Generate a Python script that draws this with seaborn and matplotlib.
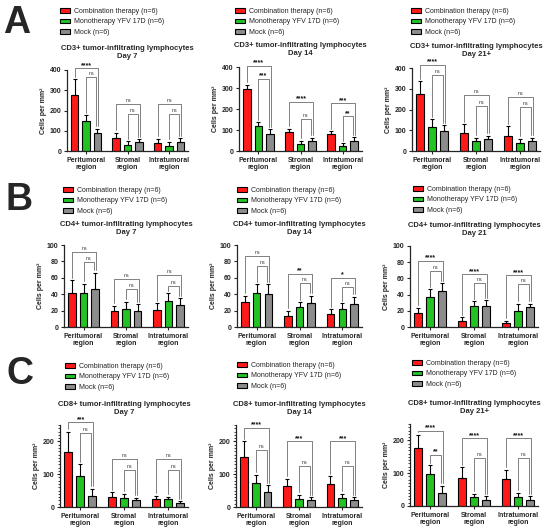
import numpy as np
import pandas as pd
import matplotlib
matplotlib.use("Agg")
import matplotlib.pyplot as plt
import seaborn as sns
from matplotlib.ticker import MultipleLocator

# ---------------- data ----------------
regions = ["Peritumoral\nregion", "Stromal\nregion", "Intratumoral\nregion"]
groups = ["Combination therapy (n=6)", "Monotherapy YFV 17D (n=6)", "Mock (n=6)"]
colors = ["#FF1A1A", "#22C322", "#8C8C8C"]

# means[region][group], tops = upper end of error bar
cd3_d7_mean = [[278, 148, 88], [66, 29, 44], [40, 25, 45]]
cd3_d7_top = [[354, 178, 109], [90, 47, 58], [60, 45, 62]]
cd3_d7_sig = [(0, 0, 2, 410, "****"), (0, 1, 2, 364, "ns"), (1, 0, 2, 230, "ns"),
              (1, 1, 2, 181, "ns"), (2, 0, 2, 230, "ns"), (2, 1, 2, 181, "ns")]

cd3_d14_mean = [[296, 120, 83], [91, 35, 50], [80, 24, 50]]
cd3_d14_top = [[315, 136, 104], [107, 48, 62], [93, 38, 66]]
cd3_d14_sig = [(0, 0, 2, 406, "****"), (0, 1, 2, 344, "***"), (1, 0, 2, 235, "****"),
               (1, 1, 2, 152, "ns"), (2, 0, 2, 227, "***"), (2, 1, 2, 166, "**")]

cd3_d21_mean = [[274, 117, 96], [87, 47, 57], [73, 37, 47]]
cd3_d21_top = [[335, 152, 125], [130, 65, 74], [120, 58, 63]]
cd3_d21_sig = [(0, 0, 2, 416, "****"), (0, 1, 2, 364, "ns"), (1, 0, 2, 270, "ns"),
               (1, 1, 2, 219, "ns"), (2, 0, 2, 259, "ns"), (2, 1, 2, 214, "ns")]

cd4_d7_mean = [[42, 41, 46], [20, 22, 19], [21, 32, 27]]
cd4_d7_top = [[57, 53, 66], [26, 31, 28], [29, 41, 35]]
cd4_d7_sig = [(0, 0, 2, 91, "ns"), (0, 1, 2, 79, "ns"), (1, 0, 2, 58, "ns"),
              (1, 1, 2, 46, "ns"), (2, 0, 2, 63, "ns"), (2, 1, 2, 50, "ns")]

cd4_d14_mean = [[31, 42, 40], [14, 24, 29], [16, 22, 28]]
cd4_d14_top = [[38, 52, 52], [20, 30, 38], [22, 29, 37]]
cd4_d14_sig = [(0, 0, 2, 87, "ns"), (0, 1, 2, 75, "ns"), (1, 0, 2, 65, "**"),
               (1, 1, 2, 54, "ns"), (2, 0, 2, 60, "*"), (2, 1, 2, 49, "ns")]

cd4_d21_mean = [[17, 37, 45], [8, 26, 26.5], [5, 20, 24.5]]
cd4_d21_top = [[24, 47, 54], [12, 32, 33], [7.5, 29, 29]]
cd4_d21_sig = [(0, 0, 2, 82, "****"), (0, 1, 2, 69, "ns"), (1, 0, 2, 65, "****"),
               (1, 1, 2, 54, "ns"), (2, 0, 2, 64, "****"), (2, 1, 2, 53, "ns")]

cd8_d7_mean = [[169, 93, 33], [32, 27, 20], [23, 23, 12]]
cd8_d7_top = [[229, 131, 56], [45, 40, 28], [35, 32, 18]]
cd8_d7_sig = [(0, 0, 2, 258, "***"), (0, 1, 2, 227, "ns"), (1, 0, 2, 146, "ns"),
              (1, 1, 2, 114, "ns"), (2, 0, 2, 146, "ns"), (2, 1, 2, 114, "ns")]

cd8_d14_mean = [[152, 73, 45], [64, 25, 20], [69, 27, 20]]
cd8_d14_top = [[200, 98, 66], [86, 38, 30], [93, 40, 30]]
cd8_d14_sig = [(0, 0, 2, 242, "****"), (0, 1, 2, 174, "ns"), (1, 0, 2, 200, "***"),
               (1, 1, 2, 126, "ns"), (2, 0, 2, 200, "***"), (2, 1, 2, 126, "ns")]

cd8_d21_mean = [[177, 99, 40], [85, 26, 18], [83, 26, 18]]
cd8_d21_top = [[217, 124, 62], [119, 38, 30], [111, 41, 30]]
cd8_d21_sig = [(0, 0, 2, 230, "****"), (0, 1, 2, 157, "**"), (1, 0, 2, 207, "****"),
               (1, 1, 2, 146, "ns"), (2, 0, 2, 207, "****"), (2, 1, 2, 146, "ns")]

titles = [
    ["CD3+ tumor-infiltrating lymphocytes\nDay 7", "CD3+ tumor-infiltrating lymphocytes\nDay 14",
     "CD3+ tumor-infiltrating lymphocytes\nDay 21+"],
    ["CD4+ tumor-infiltrating lymphocytes\nDay 7", "CD4+ tumor-infiltrating lymphocytes\nDay 14",
     "CD4+ tumor-infiltrating lymphocytes\nDay 21"],
    ["CD8+ tumor-infiltrating lymphocytes\nDay 7", "CD8+ tumor-infiltrating lymphocytes\nDay 14",
     "CD8+ tumor-infiltrating lymphocytes\nDay 21+"],
]
panel_letters = ["A", "B", "C"]

# ---------------- style ----------------
sns.set_style("ticks")
plt.rcParams["font.family"] = ["Liberation Sans", "DejaVu Sans"]

W, H = 550, 529
fig = plt.figure(figsize=(W / 100, H / 100), dpi=100)


def box(l, r, t, b):
    return [l / W, 1 - b / H, (r - l) / W, (b - t) / H]


axes_px = [
    [(67, 188, 70, 151), (239, 362, 67, 151), (412, 540, 68, 151)],
    [(64, 188, 245, 327), (237, 362, 245, 327), (410, 538, 246, 327)],
    [(60, 188, 425, 507), (236, 362, 425, 507), (410, 538, 424, 506)],
]
legend_px = [
    [(60, 8), (235, 8), (411, 8)],
    [(63, 187), (237, 187), (413, 186)],
    [(65, 363), (237, 362), (412, 360)],
]
title_pad = [8.5, 8, 8]
letter_pos = [(3, 33), (5, 210), (6, 384)]

data = [
    [(cd3_d7_mean, cd3_d7_top, cd3_d7_sig), (cd3_d14_mean, cd3_d14_top, cd3_d14_sig),
     (cd3_d21_mean, cd3_d21_top, cd3_d21_sig)],
    [(cd4_d7_mean, cd4_d7_top, cd4_d7_sig), (cd4_d14_mean, cd4_d14_top, cd4_d14_sig),
     (cd4_d21_mean, cd4_d21_top, cd4_d21_sig)],
    [(cd8_d7_mean, cd8_d7_top, cd8_d7_sig), (cd8_d14_mean, cd8_d14_top, cd8_d14_sig),
     (cd8_d21_mean, cd8_d21_top, cd8_d21_sig)],
]
row_ylim = [400, 100, 250]
row_major = [100, 20, 100]
row_minor = [None, None, 10]


def draw(ax, mean, top, sig, ymax, major, minor, title, leg_xy, pad):
    rows = []
    for ri, r in enumerate(regions):
        for gi, g in enumerate(groups):
            rows.append(dict(region=r, group=g, value=mean[ri][gi]))
    df = pd.DataFrame(rows)
    sns.barplot(data=df, x="region", y="value", hue="group", order=regions,
                hue_order=groups, palette=colors, ax=ax, width=0.82, gap=0.35,
                edgecolor="black", linewidth=0.8, errorbar=None, saturation=1)
    handles, labels = ax.get_legend_handles_labels()
    if ax.get_legend() is not None:
        ax.get_legend().remove()

    centers = np.zeros((3, 3))
    for gi, cont in enumerate(ax.containers[:3]):
        for ri, p in enumerate(cont.patches):
            centers[ri, gi] = p.get_x() + p.get_width() / 2
    m = np.array(mean, dtype=float)
    t = np.array(top, dtype=float)
    ax.errorbar(centers.ravel(), m.ravel(),
                yerr=[np.zeros(9), (t - m).ravel()], fmt="none", ecolor="black",
                elinewidth=0.8, capsize=1.6, capthick=0.8, zorder=3)

    gap = 0.03 * ymax
    dx = 0.025
    for (ri, g1, g2, y, lab) in sig:
        x1 = centers[ri, g1]
        x2 = centers[ri, g2] + (dx if g1 == 0 else -dx)
        y1 = t[ri, g1] + gap
        y2 = t[ri, g2] + gap
        ax.plot([x1, x1, x2, x2], [y1, y, y, y2], color="#6b6b6b", lw=0.6,
                clip_on=False, zorder=4)
        if lab == "ns":
            ax.text((x1 + x2) / 2, y + 0.012 * ymax, lab, ha="center", va="bottom",
                    fontsize=3.8, color="#333333", clip_on=False)
        else:
            ax.text((x1 + x2) / 2, y - 0.01 * ymax, lab, ha="center", va="bottom",
                    fontsize=5, fontweight="bold", color="#111111", clip_on=False)

    ax.set_xlim(-0.46, 2.46)
    ax.set_ylim(0, ymax)
    ax.yaxis.set_major_locator(MultipleLocator(major))
    if minor:
        ax.yaxis.set_minor_locator(MultipleLocator(minor))
        ax.tick_params(axis="y", which="minor", length=1.5, width=0.6)
    ax.set_xlabel("")
    ax.set_ylabel("Cells per mm²", fontsize=5, fontweight="bold", labelpad=2)
    ax.tick_params(axis="both", which="major", length=2.5, width=0.8, labelsize=5, pad=1.5)
    for lbl in ax.get_xticklabels() + ax.get_yticklabels():
        lbl.set_fontweight("bold")
    for lbl in ax.get_xticklabels():
        lbl.set_linespacing(1.1)
    sns.despine(ax=ax)
    for s in ["left", "bottom"]:
        ax.spines[s].set_linewidth(0.9)
    ax.set_title(title, fontsize=5.5, fontweight="bold", linespacing=1.15, pad=pad)

    ax.legend(handles, labels, loc="upper left",
              bbox_to_anchor=(leg_xy[0] / W, 1 - leg_xy[1] / H),
              bbox_transform=fig.transFigure, frameon=False, fontsize=5,
              handlelength=1.45, handleheight=0.6, handletextpad=0.6,
              labelspacing=0.5, borderpad=0, borderaxespad=0,
              labelcolor="#222222")


for r in range(3):
    for c in range(3):
        ax = fig.add_axes(box(*axes_px[r][c]))
        mean, top, sig = data[r][c]
        draw(ax, mean, top, sig, row_ylim[r], row_major[r], row_minor[r],
             titles[r][c], legend_px[r][c], title_pad[r])
    lx, ly = letter_pos[r]
    fig.text(lx / W, 1 - ly / H, panel_letters[r], fontsize=27, fontweight="bold",
             va="baseline", ha="left")

fig.savefig("out.png", dpi=100)
